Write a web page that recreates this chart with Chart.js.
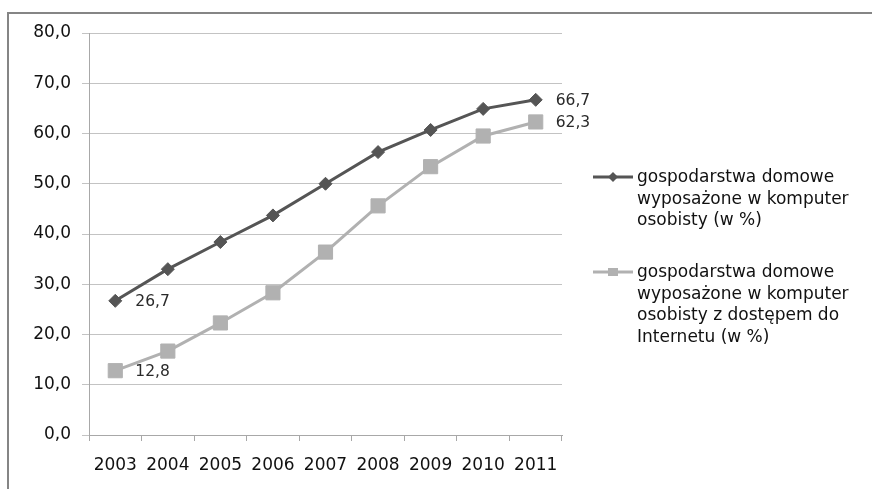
<!DOCTYPE html>
<html>
<head>
<meta charset="utf-8">
<script src="https://cdn.jsdelivr.net/npm/chart.js@4/dist/chart.umd.min.js"></script>
<style>
  html, body { margin: 0; padding: 0; background: #ffffff; }
  #wrap { width: 872px; height: 489px; position: relative; }
</style>
</head>
<body>
<div id="wrap"><canvas id="c" width="872" height="489"></canvas></div>
<script>
// Years on the category axis
const years = ['2003', '2004', '2005', '2006', '2007', '2008', '2009', '2010', '2011'];

// Share of households with a personal computer (%)
const withComputer = [26.7, 33.0, 38.4, 43.7, 50.0, 56.3, 60.7, 64.9, 66.7];

// Share of households with a personal computer with Internet access (%)
const withInternet = [12.8, 16.7, 22.3, 28.3, 36.4, 45.6, 53.4, 59.5, 62.3];

// Legend text, one entry per line
const legendComputer = ['gospodarstwa domowe', 'wyposażone w komputer', 'osobisty (w %)'];
const legendInternet = ['gospodarstwa domowe', 'wyposażone w komputer', 'osobisty z dostępem do', 'Internetu (w %)'];

// Value axis range and step
const yMin = 0, yMax = 80, yStep = 10;

const DARK = '#555555';
const LIGHT = '#b1b1b1';
const GRID = '#c3c3c3';
const TEXT = '#111111';
const FONT = 'DejaVu Sans';

const fmt = v => v.toFixed(1).replace('.', ',');

// Grey frame along the top and left edges
const framePlugin = {
  id: 'frame',
  beforeDraw(chart) {
    const ctx = chart.ctx;
    ctx.save();
    ctx.fillStyle = '#ffffff';
    ctx.fillRect(0, 0, chart.width, chart.height);
    ctx.fillStyle = '#858585';
    ctx.fillRect(7, 12, chart.width - 7, 2);
    ctx.fillRect(7, 12, 2, chart.height - 12);
    ctx.restore();
  }
};

// Value labels next to the first and last point of each series
const endLabelsPlugin = {
  id: 'endLabels',
  afterDatasetsDraw(chart) {
    const ctx = chart.ctx;
    ctx.save();
    ctx.font = '15.5px "' + FONT + '"';
    ctx.fillStyle = '#2a2a2a';
    ctx.textAlign = 'left';
    ctx.textBaseline = 'middle';
    chart.data.datasets.forEach((ds, di) => {
      const meta = chart.getDatasetMeta(di);
      [0, ds.data.length - 1].forEach(i => {
        const p = meta.data[i];
        ctx.fillText(fmt(ds.data[i]), p.x + 20, p.y + 1.5);
      });
    });
    ctx.restore();
  }
};

// Legend drawn to the right of the plot, with wrapped lines
const sideLegendPlugin = {
  id: 'sideLegend',
  afterDraw(chart) {
    const ctx = chart.ctx;
    const lineH = 21.5;
    const x0 = 593, x1 = 633, tx = 637;
    let y = 178;
    ctx.save();
    chart.data.datasets.forEach((ds, di) => {
      const lines = ds.legendLines;
      // sample line
      ctx.strokeStyle = ds.borderColor;
      ctx.lineWidth = 3;
      ctx.beginPath();
      ctx.moveTo(x0, y - 1);
      ctx.lineTo(x1, y - 1);
      ctx.stroke();
      // sample marker
      ctx.fillStyle = ds.borderColor;
      const mx = (x0 + x1) / 2;
      ctx.beginPath();
      if (ds.pointStyle === 'rectRot') {
        const r = 5;
        ctx.moveTo(mx, y - 1 - r);
        ctx.lineTo(mx + r, y - 1);
        ctx.lineTo(mx, y - 1 + r);
        ctx.lineTo(mx - r, y - 1);
        ctx.closePath();
      } else {
        ctx.rect(mx - 5, y - 5, 10, 8);
      }
      ctx.fill();
      // text
      ctx.fillStyle = TEXT;
      ctx.font = '17px "' + FONT + '"';
      ctx.textAlign = 'left';
      ctx.textBaseline = 'middle';
      lines.forEach((t, li) => ctx.fillText(t, tx, y + li * lineH));
      y += lines.length * lineH + 30.5;
    });
    ctx.restore();
  }
};

new Chart(document.getElementById('c'), {
  type: 'line',
  data: {
    labels: years,
    datasets: [
      {
        label: legendComputer.join(' '),
        legendLines: legendComputer,
        data: withComputer,
        borderColor: DARK,
        backgroundColor: DARK,
        borderWidth: 3,
        pointStyle: 'rectRot',
        pointRadius: 6.5,
        pointBorderWidth: 1,
        pointBackgroundColor: DARK,
        pointBorderColor: DARK,
        tension: 0,
        order: 1
      },
      {
        label: legendInternet.join(' '),
        legendLines: legendInternet,
        data: withInternet,
        borderColor: LIGHT,
        backgroundColor: LIGHT,
        borderWidth: 3,
        pointStyle: 'rect',
        pointRadius: 10,
        pointBorderWidth: 1,
        pointBackgroundColor: LIGHT,
        pointBorderColor: LIGHT,
        tension: 0,
        order: 2
      }
    ]
  },
  options: {
    responsive: false,
    animation: false,
    devicePixelRatio: 1,
    layout: { padding: { left: 0, right: 310, top: 33, bottom: 0 } },
    plugins: {
      legend: { display: false },
      tooltip: { enabled: false },
      title: { display: false }
    },
    scales: {
      x: {
        type: 'category',
        offset: true,
        grid: {
          display: true,
          drawOnChartArea: false,
          drawTicks: true,
          tickLength: 6,
          color: '#a8a8a8',
          offset: true
        },
        border: { display: true, color: '#a8a8a8', width: 1 },
        ticks: {
          color: TEXT,
          font: { family: FONT, size: 17 },
          padding: 14,
          maxRotation: 0,
          autoSkip: false
        },
        afterFit(s) { s.height = 54; }
      },
      y: {
        min: yMin,
        max: yMax,
        grid: {
          color: GRID,
          lineWidth: 1,
          drawTicks: true,
          tickLength: 7
        },
        border: { display: true, color: '#a8a8a8', width: 1 },
        ticks: {
          stepSize: yStep,
          color: TEXT,
          font: { family: FONT, size: 17 },
          padding: 11,
          callback: v => fmt(v)
        },
        afterFit(s) { s.width = 89; }
      }
    }
  },
  plugins: [framePlugin, endLabelsPlugin, sideLegendPlugin]
});
</script>
</body>
</html>
